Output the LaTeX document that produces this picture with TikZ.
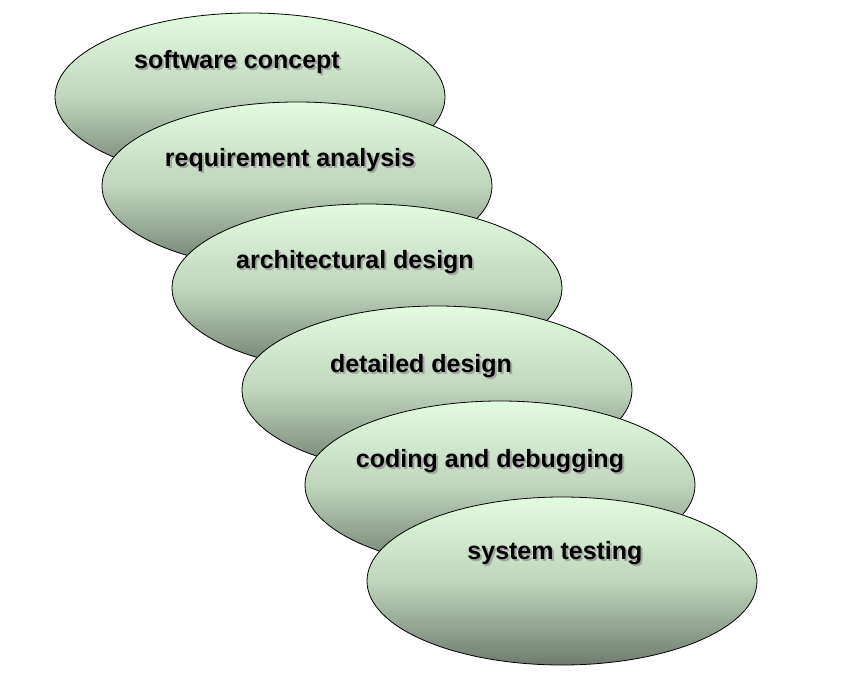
\documentclass[tikz,border=0pt]{standalone}
\usepackage{fontspec}
\setmainfont{Liberation Sans}
\usetikzlibrary{shapes.geometric}
\definecolor{topg}{HTML}{E2FCDF}
\definecolor{botg}{HTML}{6E7C6E}
\tikzset{
  stage/.style={ellipse, draw=black, line width=0.8pt, minimum width=390pt, minimum height=168pt,
    top color=topg, bottom color=botg, middle color=topg!70!botg},
  lbl/.style={font=\bfseries\fontsize{25}{30}\selectfont, text=black},
  shd/.style={font=\bfseries\fontsize{25}{30}\selectfont, text=black!35}
}
\begin{document}
\begin{tikzpicture}[x=1pt,y=-1pt]
\useasboundingbox (0,0) rectangle (844,682);
\foreach \n/\x/\y/\tx/\ty/\t in {a/250/97/237/62/software concept, b/297/186/290/160/requirement analysis, c/367/288/355/262/architectural design, d/437/390/421/366/detailed design, e/500/485/490/461/coding and debugging, f/562/581/555/553/system testing}{
  \node[stage] (\n) at (\x,\y) {};
  \node[shd] (\n s) at (\tx+2,\ty+2) {\t};
  \node[lbl] (\n t) at (\tx,\ty) {\t};
}
\end{tikzpicture}
\end{document}
